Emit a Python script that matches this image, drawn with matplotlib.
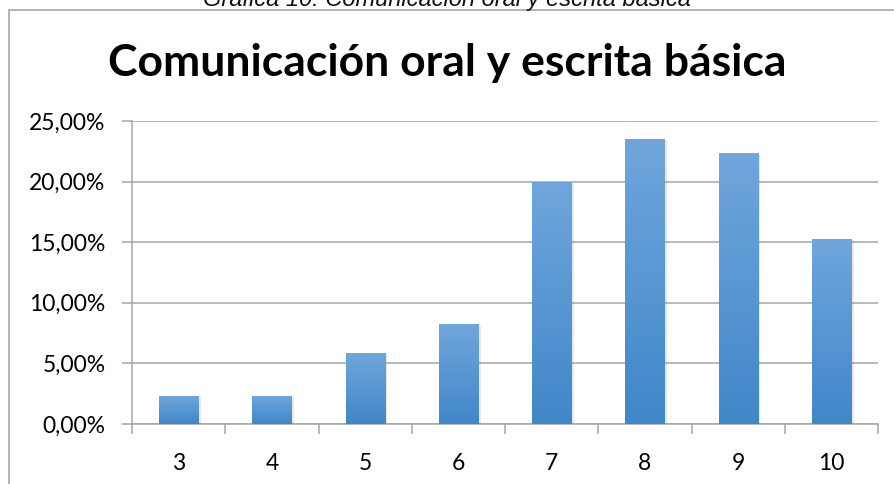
import numpy as np
import matplotlib
matplotlib.use("Agg")
from matplotlib import pyplot as plt
from matplotlib.patches import Rectangle
from matplotlib.ticker import FixedLocator
import matplotlib.patheffects as pe

categorias = ["3", "4", "5", "6", "7", "8", "9", "10"]
porcentajes = [2.35, 2.35, 5.88, 8.24, 20.00, 23.53, 22.35, 15.29]
y_ticks = [0, 5, 10, 15, 20, 25]

TITULO = "Comunicación oral y escrita básica"
CAPTION = "Gráfica 10: Comunicación oral y escrita básica"

GRID = "#a6a6a6"
TOP_BLUE = np.array([0x70, 0xa6, 0xdc]) / 255
BOT_BLUE = np.array([0x40, 0x87, 0xc9]) / 255


def fmt(v, pos):
    return f"{v:.2f}".replace(".", ",") + "%"


def main():
    plt.rcParams["font.family"] = ["Lato", "DejaVu Sans"]
    fig = plt.figure(figsize=(8.94, 4.84), dpi=100)
    ax = fig.add_axes([132 / 894, 1 - 424 / 484, (878 - 132) / 894, (424 - 121) / 484])

    # chart frame, cut by the page edge on right and bottom
    fig.patches.append(Rectangle((9 / 894, -0.1), 1.2, 1.1 - 10 / 484, transform=fig.transFigure,
                                 fill=False, edgecolor=GRID, lw=1.2))
    fig.text(0.5, 1 - 6 / 484, CAPTION, ha="center", va="baseline", fontsize=17,
             style="italic", family="Liberation Sans", color="#111111")
    fig.text(0.5, 1 - 63 / 484, TITULO, ha="center", va="center", fontsize=32,
             fontweight="bold", color="black")

    x = np.arange(len(categorias))
    bars = ax.bar(x, porcentajes, width=0.42, color=BOT_BLUE, zorder=3)

    # vertical gradient with a soft shadow on each bar
    grad = np.linspace(0, 1, 256)[:, None, None]
    img = TOP_BLUE * (1 - grad) + BOT_BLUE * grad
    for b in bars:
        b.set_path_effects([pe.SimplePatchShadow(offset=(2, -1), shadow_rgbFace="#666666", alpha=0.15),
                            pe.Normal()])
        x0, w, h = b.get_x(), b.get_width(), b.get_height()
        im = ax.imshow(img, extent=(x0, x0 + w, 0, h), aspect="auto", origin="upper", zorder=4)
        im.set_clip_path(b)

    ax.set_xlim(-0.5, len(categorias) - 0.5)
    ax.set_ylim(0, 25)
    ax.set_yticks(y_ticks)
    ax.yaxis.set_major_formatter(fmt)
    ax.set_xticks(x)
    ax.set_xticklabels(categorias)
    ax.xaxis.set_minor_locator(FixedLocator(np.arange(-0.5, len(categorias), 1)))

    ax.grid(axis="y", color=GRID, lw=1.1, zorder=0)
    ax.set_axisbelow(True)
    for s in ["top", "right"]:
        ax.spines[s].set_visible(False)
    for s in ["left", "bottom"]:
        ax.spines[s].set_color(GRID)
        ax.spines[s].set_linewidth(1.1)

    ax.tick_params(axis="x", which="major", length=0, pad=21, labelsize=16.5)
    ax.tick_params(axis="x", which="minor", length=7, width=1.1, color=GRID)
    ax.tick_params(axis="y", length=7, width=1.1, color=GRID, pad=12, labelsize=16.5)

    fig.savefig("out.png", dpi=100, facecolor="white")


if __name__ == "__main__":
    main()
